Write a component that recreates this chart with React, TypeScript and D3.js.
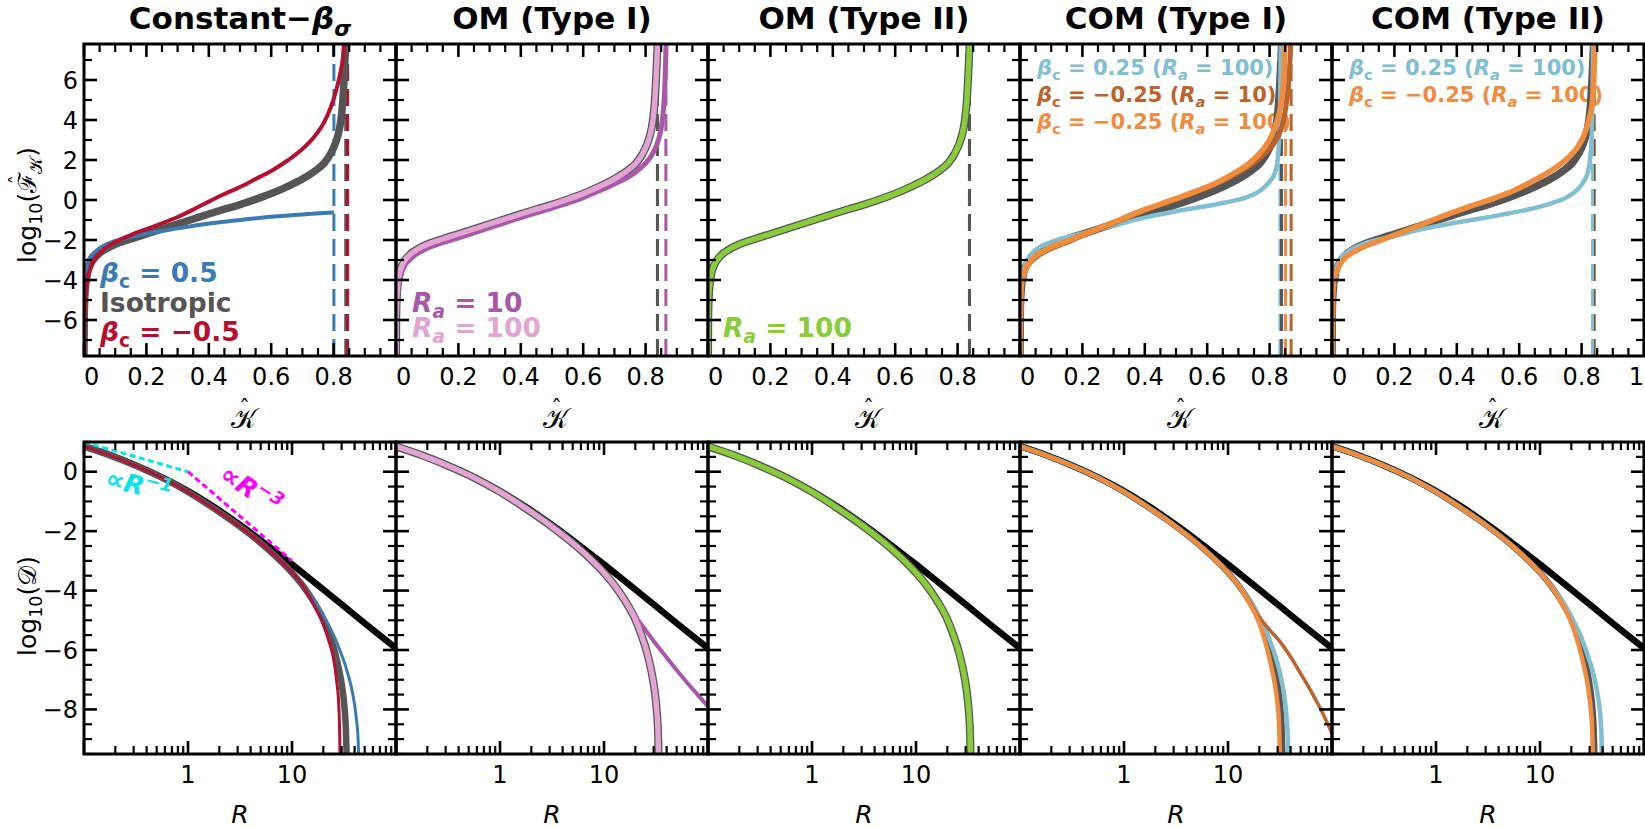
import React from "react";
import * as d3 from "d3";

const WIDTH = 1645;
const HEIGHT = 829;
const PANEL = 312;
const PANEL_LEFT = [84, 396, 708, 1020, 1332];
const TOP_Y = 44;
const BOT_Y = 442;

const COL = {
  iso: "#555555",
  blue: "#3b7bb3",
  red: "#b5112f",
  purple: "#a957a9",
  pink: "#e3a3d3",
  green: "#88cc3a",
  lblue: "#80bed1",
  brown: "#b9642b",
  orange: "#f08c3d",
  cyan: "#00e5e5",
  magenta: "#ff00ff",
  black: "#000000",
};

// ---------- top row: log10 F vs K ----------
const isoK = [0, 0.001, 0.004, 0.01, 0.02, 0.04, 0.07, 0.1, 0.15, 0.2, 0.25, 0.3, 0.35, 0.4, 0.45, 0.5, 0.55, 0.6, 0.65, 0.7, 0.74, 0.77, 0.79, 0.805, 0.815, 0.823, 0.829, 0.833, 0.836, 0.839];
const isoF = [-8.0, -5.6, -4.5, -3.75, -3.25, -2.8, -2.45, -2.22, -1.95, -1.7, -1.45, -1.2, -0.95, -0.7, -0.46, -0.23, 0.03, 0.32, 0.66, 1.05, 1.45, 1.85, 2.3, 2.8, 3.3, 3.95, 4.85, 5.9, 6.9, 8.0];

const bPosK = [0, 0.001, 0.006, 0.012, 0.021, 0.035, 0.053, 0.075, 0.1, 0.15, 0.2, 0.3, 0.4, 0.5, 0.6, 0.7, 0.801];
const bPosF = [-8.0, -4.6, -3.45, -3.1, -2.83, -2.6, -2.38, -2.2, -2.05, -1.85, -1.68, -1.42, -1.18, -1.0, -0.84, -0.72, -0.63];

const bNegK = [0, 0.002, 0.006, 0.012, 0.02, 0.032, 0.05, 0.075, 0.1, 0.15, 0.2, 0.25, 0.3, 0.35, 0.4, 0.45, 0.5, 0.55, 0.6, 0.65, 0.7, 0.74, 0.77, 0.79, 0.805, 0.818, 0.828, 0.836];
const bNegF = [-8.0, -6.0, -4.6, -3.9, -3.45, -3.0, -2.65, -2.33, -2.1, -1.75, -1.45, -1.17, -0.85, -0.48, -0.08, 0.3, 0.65, 1.05, 1.45, 1.95, 2.55, 3.2, 3.9, 4.6, 5.3, 6.1, 6.9, 8.0];

const omI10K = [0, 0.002, 0.006, 0.012, 0.024, 0.05, 0.1, 0.2, 0.3, 0.4, 0.5, 0.6, 0.65, 0.7, 0.745, 0.78, 0.809, 0.83, 0.841, 0.85, 0.857, 0.862, 0.866];
const omI10F = [-8.0, -5.8, -4.7, -4.0, -3.4, -2.9, -2.42, -1.9, -1.38, -0.88, -0.4, 0.12, 0.45, 0.8, 1.15, 1.55, 2.0, 2.55, 3.0, 3.6, 4.5, 5.8, 8.0];

const omI100K = [0, 0.001, 0.004, 0.01, 0.02, 0.04, 0.07, 0.1, 0.15, 0.2, 0.25, 0.3, 0.35, 0.4, 0.45, 0.5, 0.55, 0.6, 0.65, 0.7, 0.74, 0.77, 0.79, 0.805, 0.815, 0.823, 0.829, 0.833, 0.836, 0.839];
const omI100F = [-8.0, -5.6, -4.5, -3.75, -3.25, -2.8, -2.45, -2.22, -1.95, -1.7, -1.45, -1.2, -0.95, -0.7, -0.46, -0.23, 0.03, 0.32, 0.66, 1.05, 1.45, 1.85, 2.3, 2.8, 3.3, 3.95, 4.85, 5.9, 6.9, 8.0];

const omII100K = [0, 0.001, 0.004, 0.01, 0.02, 0.04, 0.07, 0.1, 0.15, 0.2, 0.25, 0.3, 0.35, 0.4, 0.45, 0.5, 0.55, 0.6, 0.65, 0.7, 0.74, 0.77, 0.79, 0.805, 0.815, 0.823, 0.829, 0.833, 0.836, 0.839];
const omII100F = [-8.0, -5.6, -4.5, -3.75, -3.25, -2.8, -2.45, -2.22, -1.95, -1.7, -1.45, -1.2, -0.95, -0.7, -0.46, -0.23, 0.03, 0.32, 0.66, 1.05, 1.45, 1.85, 2.3, 2.8, 3.3, 3.95, 4.85, 5.9, 6.9, 8.0];

const comIlbK = [0, 0.002, 0.006, 0.012, 0.027, 0.05, 0.1, 0.2, 0.3, 0.4, 0.5, 0.6, 0.65, 0.7, 0.73, 0.76, 0.785, 0.805, 0.817, 0.825, 0.829, 0.832, 0.834, 0.836];
const comIlbF = [-8.0, -5.0, -4.0, -3.5, -2.9, -2.5, -2.1, -1.67, -1.28, -0.88, -0.56, -0.3, -0.15, 0.02, 0.16, 0.37, 0.67, 1.02, 1.35, 1.9, 2.6, 3.7, 5.2, 8.0];

const comIbrK = [0, 0.002, 0.005, 0.012, 0.027, 0.05, 0.091, 0.15, 0.198, 0.25, 0.305, 0.36, 0.411, 0.465, 0.518, 0.57, 0.625, 0.68, 0.732, 0.77, 0.796, 0.815, 0.828, 0.84, 0.849, 0.856, 0.862, 0.868];
const comIbrF = [-8.0, -5.8, -4.4, -3.8, -3.25, -2.88, -2.5, -2.12, -1.8, -1.48, -1.13, -0.77, -0.46, -0.16, 0.13, 0.44, 0.78, 1.2, 1.68, 2.12, 2.5, 2.85, 3.2, 3.7, 4.33, 5.1, 6.0, 7.9];

const comIorK = [0, 0.002, 0.005, 0.012, 0.027, 0.05, 0.091, 0.15, 0.198, 0.25, 0.305, 0.36, 0.411, 0.465, 0.518, 0.57, 0.625, 0.68, 0.732, 0.76, 0.785, 0.803, 0.817, 0.83, 0.839, 0.845, 0.849];
const comIorF = [-8.0, -5.6, -4.2, -3.7, -3.17, -2.8, -2.42, -2.05, -1.75, -1.43, -1.08, -0.72, -0.42, -0.12, 0.17, 0.48, 0.83, 1.28, 1.8, 2.2, 2.65, 3.1, 3.6, 4.3, 5.0, 6.0, 7.9];

const comIIlbK = [0, 0.002, 0.006, 0.012, 0.027, 0.05, 0.1, 0.2, 0.3, 0.4, 0.5, 0.6, 0.65, 0.7, 0.756, 0.785, 0.808, 0.82, 0.827, 0.832, 0.835, 0.837];
const comIIlbF = [-8.0, -5.0, -4.0, -3.5, -2.95, -2.6, -2.2, -1.8, -1.42, -1.12, -0.86, -0.57, -0.4, -0.18, 0.17, 0.5, 0.95, 1.4, 2.0, 3.0, 5.0, 8.0];

const comIIorK = [0, 0.002, 0.005, 0.012, 0.027, 0.05, 0.091, 0.15, 0.2, 0.25, 0.3, 0.387, 0.45, 0.519, 0.58, 0.65, 0.7, 0.756, 0.785, 0.808, 0.825, 0.835, 0.84, 0.843];
const comIIorF = [-8.0, -5.6, -4.2, -3.7, -3.17, -2.8, -2.42, -2.05, -1.75, -1.45, -1.15, -0.62, -0.28, 0.08, 0.45, 1.0, 1.45, 2.1, 2.6, 3.25, 4.1, 5.0, 6.3, 8.0];

// truncation energies (vertical dashed markers)
const isoCut = 0.839;
const bPosCut = 0.801;
const bNegCut = 0.845;
const omI10Cut = 0.865;
const om100Cut = 0.838;
const comIlbCut = 0.833;
const comIorCut = 0.851;
const comIbrCut = 0.869;
const comIIlbCut = 0.835;
const comIIorCut = 0.841;

// ---------- bottom row: log10 density vs R ----------
const refR = [0.1, 0.178, 0.316, 0.562, 1, 1.78, 3.16, 5.62, 10, 17.8, 31.6, 56.2, 100];
const refD = [0.86, 0.56, 0.21, -0.19, -0.65, -1.19, -1.79, -2.44, -3.12, -3.82, -4.53, -5.24, -5.94];

const innerR = [0.1, 0.178, 0.316, 0.562, 1, 1.78, 3.16, 5.62, 10, 12.6];
const innerD = [0.85, 0.55, 0.2, -0.2, -0.68, -1.24, -1.85, -2.55, -3.4, -3.82];

const isoTailR = [15.8, 20, 22.9, 26, 28.5, 30.5, 32, 33, 33.6];
const isoTailD = [-4.32, -4.97, -5.5, -6.1, -6.7, -7.3, -7.95, -8.7, -9.7];

const bNegTailR = [15.8, 20, 22.4, 25.1, 26.9, 28.2, 28.7, 29.0];
const bNegTailD = [-4.4, -5.15, -5.65, -6.3, -7.05, -7.9, -8.7, -9.7];

const bPosTailR = [15.8, 20, 25.1, 28.8, 33.1, 37.2, 39.8, 41.7, 43.2, 43.9];
const bPosTailD = [-4.27, -4.82, -5.5, -6.0, -6.6, -7.25, -7.8, -8.35, -9.0, -9.7];

const omI10TailR = [15.8, 20, 25.1, 31.6, 39.8, 50.1, 63.1, 79.4, 100];
const omI10TailD = [-4.3, -4.85, -5.33, -5.8, -6.24, -6.68, -7.1, -7.5, -7.9];

const comIorTailR = [15.8, 20, 22.9, 25.7, 28.2, 29.9, 30.9, 31.6];
const comIorTailD = [-4.38, -5.1, -5.75, -6.45, -7.15, -7.8, -8.4, -9.7];

const comIlbTailR = [15.8, 20, 25.1, 28.8, 32.4, 35.1, 36.7, 37.6, 38.0];
const comIlbTailD = [-4.3, -4.9, -5.65, -6.25, -6.95, -7.65, -8.35, -9.0, -9.7];

const comIbrTailR = [15.8, 20, 25.1, 31.6, 39.8, 50.1, 63.1, 79.4, 100];
const comIbrTailD = [-4.32, -4.9, -5.32, -5.72, -6.22, -6.8, -7.4, -8.05, -8.8];

const comIIorTailR = [15.8, 20, 23.4, 26.3, 28.8, 30.5, 31.6, 32.4];
const comIIorTailD = [-4.38, -5.08, -5.8, -6.5, -7.2, -7.85, -8.5, -9.7];

const comIIlbTailR = [15.8, 20, 25.1, 29.5, 33.9, 36.7, 38.5, 39.1, 39.4];
const comIIlbTailD = [-4.28, -4.88, -5.6, -6.3, -7.05, -7.75, -8.45, -9.0, -9.7];

// power-law guides
const guide1R = [0.1, 1];
const guide1D = [1.0, 0.0];
const guide3R = [1, 10];
const guide3D = [0.0, -3.0];

// ---------- ticks ----------
const kMajor = [0, 0.2, 0.4, 0.6, 0.8, 1];
const kMinor = d3.range(1, 20).map((i) => i * 0.05).filter((v) => Math.abs(v / 0.2 - Math.round(v / 0.2)) > 1e-6);
const kLabels = ["0", "0.2", "0.4", "0.6", "0.8", "1"];
const fMajor = [-6, -4, -2, 0, 2, 4, 6];
const fMinor = [-7, -5, -3, -1, 1, 3, 5, 7];
const fLabels = ["−6", "−4", "−2", "0", "2", "4", "6"];
const rMajor = [0.1, 1, 10, 100];
const rMinor = [0.1, 1, 10].flatMap((d) => d3.range(2, 10).map((m) => m * d));
const rLabelVals = [1, 10];
const rLabels = ["1", "10"];
const dMajor = [-8, -6, -4, -2, 0];
const dMinor = d3.range(-19, 3).map((i) => i * 0.5).filter((v) => v % 2 !== 0);
const dLabels = ["−8", "−6", "−4", "−2", "0"];

// ---------- scales ----------
const kx = d3.scaleLinear().domain([0, 1]).range([0, PANEL]);
const fy = d3.scaleLinear().domain([-7.8, 7.8]).range([PANEL, 0]);
const rx = d3.scaleLog().domain([0.1, 100]).range([0, PANEL]);
const dy = d3.scaleLinear().domain([-9.5, 1]).range([PANEL, 0]);

const topPath = (xs: number[], ys: number[]) =>
  d3.line<number>().x((v) => kx(v)).y((_, i) => fy(ys[i])).curve(d3.curveMonotoneX)(xs) || "";
const botPath = (xs: number[], ys: number[]) =>
  d3.line<number>().x((v) => rx(v)).y((_, i) => dy(ys[i])).curve(d3.curveMonotoneX)(xs) || "";

type Curve = { xs: number[]; ys: number[]; color: string; w: number; dash?: string };
type Part = { t: string; it?: boolean; sub?: boolean; sup?: boolean; fam?: string; dx?: number; lift?: number; size?: number };
type Row = { parts: Part[]; color: string };

const betaC = (v: string): Part[] => [{ t: "β", it: true }, { t: "c", sub: true }, { t: ` = ${v}` }];
const ra = (v: string): Part[] => [{ t: "R", it: true }, { t: "a", sub: true, it: true }, { t: ` = ${v}` }];
const betaRa = (b: string, r: string): Part[] => [
  { t: "β", it: true }, { t: "c", sub: true }, { t: ` = ${b} (` },
  { t: "R", it: true }, { t: "a", sub: true, it: true }, { t: ` = ${r})` },
];

const joinR = (tail: number[]) => innerR.concat(tail);
const joinD = (tail: number[]) => innerD.concat(tail);

type PanelSpec = {
  title: Part[];
  top: Curve[];
  cuts: { k: number; color: string }[];
  legend: { x: number; y0: number; step: number; size: number; rows: Row[] };
  bottom: Curve[];
};

const refCurve: Curve = { xs: refR, ys: refD, color: COL.black, w: 6.5 };

const panels: PanelSpec[] = [
  {
    title: [{ t: "Constant−" }, { t: "β", it: true }, { t: "σ", it: true, sub: true }],
    top: [
      { xs: isoK, ys: isoF, color: COL.iso, w: 7.5 },
      { xs: bPosK, ys: bPosF, color: COL.blue, w: 4 },
      { xs: bNegK, ys: bNegF, color: COL.red, w: 4 },
    ],
    cuts: [
      { k: bPosCut, color: COL.blue },
      { k: isoCut, color: COL.iso },
      { k: bNegCut, color: COL.red },
    ],
    legend: {
      x: 16, y0: 238, step: 29.5, size: 26.5,
      rows: [
        { parts: betaC("0.5"), color: COL.blue },
        { parts: [{ t: "Isotropic" }], color: COL.iso },
        { parts: betaC("−0.5"), color: COL.red },
      ],
    },
    bottom: [
      refCurve,
      { xs: joinR(isoTailR), ys: joinD(isoTailD), color: COL.iso, w: 6.5 },
      { xs: joinR(bPosTailR), ys: joinD(bPosTailD), color: COL.blue, w: 3 },
      { xs: joinR(bNegTailR), ys: joinD(bNegTailD), color: COL.red, w: 3 },
      { xs: guide1R, ys: guide1D, color: COL.cyan, w: 3, dash: "6 3.5" },
      { xs: guide3R, ys: guide3D, color: COL.magenta, w: 3, dash: "6 3.5" },
    ],
  },
  {
    title: [{ t: "OM (Type I)" }],
    top: [
      { xs: isoK, ys: isoF, color: COL.iso, w: 8 },
      { xs: omI10K, ys: omI10F, color: COL.purple, w: 5 },
      { xs: omI100K, ys: omI100F, color: COL.pink, w: 5.5 },
    ],
    cuts: [
      { k: om100Cut, color: COL.pink },
      { k: om100Cut, color: COL.iso },
      { k: omI10Cut, color: COL.purple },
    ],
    legend: {
      x: 16, y0: 268, step: 25, size: 26.5,
      rows: [
        { parts: ra("10"), color: COL.purple },
        { parts: ra("100"), color: COL.pink },
      ],
    },
    bottom: [
      refCurve,
      { xs: joinR(isoTailR), ys: joinD(isoTailD), color: COL.iso, w: 8 },
      { xs: joinR(omI10TailR), ys: joinD(omI10TailD), color: COL.purple, w: 4 },
      { xs: joinR(isoTailR), ys: joinD(isoTailD), color: COL.pink, w: 5.5 },
    ],
  },
  {
    title: [{ t: "OM (Type II)" }],
    top: [
      { xs: isoK, ys: isoF, color: COL.iso, w: 8 },
      { xs: omII100K, ys: omII100F, color: COL.green, w: 5.5 },
    ],
    cuts: [
      { k: om100Cut, color: COL.green },
      { k: om100Cut, color: COL.iso },
    ],
    legend: {
      x: 15, y0: 293, step: 25, size: 26.5,
      rows: [{ parts: ra("100"), color: COL.green }],
    },
    bottom: [
      refCurve,
      { xs: joinR(isoTailR), ys: joinD(isoTailD), color: COL.iso, w: 8 },
      { xs: joinR(isoTailR), ys: joinD(isoTailD), color: COL.green, w: 5.5 },
    ],
  },
  {
    title: [{ t: "COM (Type I)" }],
    top: [
      { xs: isoK, ys: isoF, color: COL.iso, w: 7.5 },
      { xs: comIlbK, ys: comIlbF, color: COL.lblue, w: 4.5 },
      { xs: comIbrK, ys: comIbrF, color: COL.brown, w: 5 },
      { xs: comIorK, ys: comIorF, color: COL.orange, w: 5.5 },
    ],
    cuts: [
      { k: comIlbCut, color: COL.lblue },
      { k: isoCut - 0.001, color: COL.iso },
      { k: comIorCut, color: COL.orange },
      { k: comIbrCut, color: COL.brown },
    ],
    legend: {
      x: 17, y0: 31, step: 27, size: 21,
      rows: [
        { parts: betaRa("0.25", "100"), color: COL.lblue },
        { parts: betaRa("−0.25", "10"), color: COL.brown },
        { parts: betaRa("−0.25", "100"), color: COL.orange },
      ],
    },
    bottom: [
      refCurve,
      { xs: joinR(isoTailR), ys: joinD(isoTailD), color: COL.iso, w: 6 },
      { xs: joinR(comIlbTailR), ys: joinD(comIlbTailD), color: COL.lblue, w: 4.5 },
      { xs: joinR(comIbrTailR), ys: joinD(comIbrTailD), color: COL.brown, w: 3.5 },
      { xs: joinR(comIorTailR), ys: joinD(comIorTailD), color: COL.orange, w: 4.5 },
    ],
  },
  {
    title: [{ t: "COM (Type II)" }],
    top: [
      { xs: isoK, ys: isoF, color: COL.iso, w: 7.5 },
      { xs: comIIlbK, ys: comIIlbF, color: COL.lblue, w: 4.5 },
      { xs: comIIorK, ys: comIIorF, color: COL.orange, w: 5.5 },
    ],
    cuts: [
      { k: comIIorCut, color: COL.orange },
      { k: isoCut, color: COL.iso },
      { k: comIIlbCut, color: COL.lblue },
    ],
    legend: {
      x: 17, y0: 31, step: 27, size: 21,
      rows: [
        { parts: betaRa("0.25", "100"), color: COL.lblue },
        { parts: betaRa("−0.25", "100"), color: COL.orange },
      ],
    },
    bottom: [
      refCurve,
      { xs: joinR(isoTailR), ys: joinD(isoTailD), color: COL.iso, w: 6 },
      { xs: joinR(comIIlbTailR), ys: joinD(comIIlbTailD), color: COL.lblue, w: 4.5 },
      { xs: joinR(comIIorTailR), ys: joinD(comIIorTailD), color: COL.orange, w: 4.5 },
    ],
  },
];

const FONT = "DejaVu Sans";

// Inline math-like runs: sub/superscripts and accents via dx/dy offsets
function spans(parts: Part[], size: number) {
  let cur = 0;
  return parts.map((p, i) => {
    const target = p.lift !== undefined ? -p.lift : p.sub ? size * 0.24 : p.sup ? -size * 0.4 : 0;
    const shift = target - cur;
    cur = target;
    const fs = p.size ?? (p.sub || p.sup ? size * 0.7 : size);
    return (
      <tspan
        key={i}
        dx={p.dx}
        dy={shift}
        fontSize={fs}
        fontStyle={p.it ? "italic" : "normal"}
        fontFamily={p.fam}
      >
        {p.t}
      </tspan>
    );
  });
}

const MAJ = 13;
const MIN = 8;

function Ticks({ xMaj, xMin, yMaj, yMin, sx, sy }: any) {
  const out: JSX.Element[] = [];
  const add = (key: string, x1: number, y1: number, x2: number, y2: number, w: number) =>
    out.push(<line key={key} x1={x1} y1={y1} x2={x2} y2={y2} stroke="#000" strokeWidth={w} />);
  xMaj.forEach((v: number, i: number) => {
    const x = sx(v);
    add(`xa${i}`, x, 0, x, MAJ, 2.6);
    add(`xb${i}`, x, PANEL, x, PANEL - MAJ, 2.6);
  });
  xMin.forEach((v: number, i: number) => {
    const x = sx(v);
    add(`xc${i}`, x, 0, x, MIN, 2.2);
    add(`xd${i}`, x, PANEL, x, PANEL - MIN, 2.2);
  });
  yMaj.forEach((v: number, i: number) => {
    const y = sy(v);
    add(`ya${i}`, 0, y, MAJ, y, 2.6);
    add(`yb${i}`, PANEL, y, PANEL - MAJ, y, 2.6);
  });
  yMin.forEach((v: number, i: number) => {
    const y = sy(v);
    add(`yc${i}`, 0, y, MIN, y, 2.2);
    add(`yd${i}`, PANEL, y, PANEL - MIN, y, 2.2);
  });
  return <g>{out}</g>;
}

export default function App() {
  return (
    <svg
      width={WIDTH}
      height={HEIGHT}
      viewBox={`0 0 ${WIDTH} ${HEIGHT}`}
      style={{ position: "absolute", left: 0, top: 0, background: "#fff" }}
      fontFamily={FONT}
    >
      <rect width={WIDTH} height={HEIGHT} fill="#fff" />
      <defs>
        <clipPath id="panel-clip">
          <rect x={0} y={0} width={PANEL} height={PANEL} />
        </clipPath>
      </defs>

      {panels.map((p, pi) => {
        const L = PANEL_LEFT[pi];
        const cx = L + PANEL / 2;
        return (
          <g key={pi}>
            {/* title */}
            <text x={cx} y={28.5} textAnchor="middle" fontSize={31} fontWeight="bold" style={{ whiteSpace: "pre" }}>
              {spans(p.title, 31)}
            </text>

            {/* top panel: distribution function */}
            <g transform={`translate(${L},${TOP_Y})`}>
              <g style={{ whiteSpace: "pre" }} fontWeight="bold">
                {p.legend.rows.map((r, ri) => (
                  <text key={ri} x={p.legend.x} y={p.legend.y0 + ri * p.legend.step} fill={r.color} fontSize={p.legend.size}>
                    {spans(r.parts, p.legend.size)}
                  </text>
                ))}
              </g>
              <g clipPath="url(#panel-clip)">
                {p.cuts.map((c, ci) => (
                  <line key={ci} x1={kx(c.k)} x2={kx(c.k)} y1={PANEL} y2={0} stroke={c.color} strokeWidth={3} strokeDasharray="17 8" />
                ))}
                {p.top.map((c, ci) => (
                  <path key={ci} d={topPath(c.xs, c.ys)} fill="none" stroke={c.color} strokeWidth={c.w} strokeLinejoin="round" />
                ))}
              </g>
              <Ticks xMaj={kMajor} xMin={kMinor} yMaj={fMajor} yMin={fMinor} sx={kx} sy={fy} />
              <rect x={0} y={0} width={PANEL} height={PANEL} fill="none" stroke="#000" strokeWidth={3} />
              {kMajor.map((v, i) => {
                if (v === 1 && pi < 4) return null;
                const anchor = v === 0 ? "start" : v === 1 ? "end" : "middle";
                return (
                  <text key={i} x={kx(v)} y={PANEL + 29} fontSize={24} textAnchor={anchor}>
                    {kLabels[i]}
                  </text>
                );
              })}
              {pi === 0 &&
                fMajor.map((v, i) => (
                  <text key={i} x={-6} y={fy(v) + 8.7} fontSize={24} textAnchor="end">
                    {fLabels[i]}
                  </text>
                ))}
              {/* x label: calligraphic K with hat */}
              <text x={PANEL / 2 - 9} y={PANEL + 72} fontSize={27} textAnchor="start" fontFamily="DejaVu Serif">
                {spans([{ t: "𝒦" }, { t: "ˆ", dx: -17, lift: 12, size: 22 }], 27)}
              </text>
            </g>

            {/* bottom panel: density profile */}
            <g transform={`translate(${L},${BOT_Y})`}>
              <g clipPath="url(#panel-clip)">
                {p.bottom.map((c, ci) => (
                  <path
                    key={ci}
                    d={botPath(c.xs, c.ys)}
                    fill="none"
                    stroke={c.color}
                    strokeWidth={c.w}
                    strokeDasharray={c.dash}
                    strokeLinejoin="round"
                  />
                ))}
              </g>
              {pi === 0 && (
                <g fontWeight="bold" style={{ whiteSpace: "pre" }}>
                  <text transform={`translate(${rx(0.32)},${dy(-0.76)}) rotate(14)`} textAnchor="middle" fontSize={26} fill={COL.cyan}>
                    {spans([{ t: "∝" }, { t: "R", it: true }, { t: "−1", sup: true, it: true }], 26)}
                  </text>
                  <text transform={`translate(${rx(3.6)},${dy(-0.85)}) rotate(34)`} textAnchor="middle" fontSize={26} fill={COL.magenta}>
                    {spans([{ t: "∝" }, { t: "R", it: true }, { t: "−3", sup: true, it: true }], 26)}
                  </text>
                </g>
              )}
              <Ticks xMaj={rMajor} xMin={rMinor} yMaj={dMajor} yMin={dMinor} sx={rx} sy={dy} />
              <rect x={0} y={0} width={PANEL} height={PANEL} fill="none" stroke="#000" strokeWidth={3} />
              {rLabelVals.map((v, i) => (
                <text key={i} x={rx(v)} y={PANEL + 29} fontSize={24} textAnchor="middle">
                  {rLabels[i]}
                </text>
              ))}
              {pi === 0 &&
                dMajor.map((v, i) => (
                  <text key={i} x={-6} y={dy(v) + 8.7} fontSize={24} textAnchor="end">
                    {dLabels[i]}
                  </text>
                ))}
              <text x={PANEL / 2} y={PANEL + 69} fontSize={25} textAnchor="middle" fontStyle="italic">
                R
              </text>
            </g>
          </g>
        );
      })}

      {/* y-axis labels */}
      <text transform="translate(36,205) rotate(-90)" textAnchor="middle" fontSize={25} style={{ whiteSpace: "pre" }}>
        {spans(
          [
            { t: "log" },
            { t: "10", sub: true },
            { t: "(" },
            { t: "ℱ", fam: "DejaVu Serif" },
            { t: "ˆ", dx: -13, lift: 11, size: 20, fam: "DejaVu Serif" },
            { t: "𝒦", sub: true, fam: "DejaVu Serif", dx: 1 },
            { t: ")" },
          ],
          25
        )}
      </text>
      <text transform="translate(36,606) rotate(-90)" textAnchor="middle" fontSize={25} style={{ whiteSpace: "pre" }}>
        {spans([{ t: "log" }, { t: "10", sub: true }, { t: "(" }, { t: "𝒟", fam: "DejaVu Serif" }, { t: ")" }], 25)}
      </text>
    </svg>
  );
}
